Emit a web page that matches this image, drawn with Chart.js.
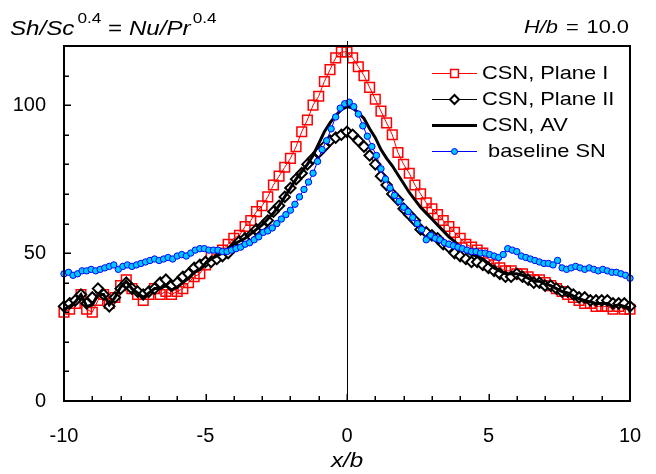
<!DOCTYPE html>
<html>
<head>
<meta charset="utf-8">
<script src="https://cdn.jsdelivr.net/npm/chart.js@4.4.0/dist/chart.umd.min.js"></script>
<style>
  html, body { margin: 0; padding: 0; background: #fff; }
  #wrap { width: 656px; height: 474px; }
</style>
</head>
<body>
<div id="wrap"><canvas id="chart" width="656" height="474"></canvas></div>
<script>
// ===== Data =====
const X_START = -10;
const PLANE_STEP = 0.2;    // x spacing of the CSN samples
const BASE_STEP = 0.16;    // x spacing of the baseline samples

const seriesNames = ["CSN, Plane I", "CSN, Plane II", "CSN, AV", " baseline SN"];
const xTickLabels = [-10, -5, 0, 5, 10];
const yTickLabels = [0, 50, 100];

const planeI = [
  30, 31, 33, 36, 31, 30, 34, 36, 33, 35,
  39, 41, 38, 36, 34, 36, 38, 36, 37, 36,
  37, 38, 40, 42, 43, 46, 49, 50, 51, 53,
  55, 56, 59, 61, 64, 66, 69, 73, 76, 79,
  82, 86, 91, 95, 100, 103, 108, 112, 116, 118,
  118, 116, 113, 110, 106, 102, 98, 94, 90, 84,
  80, 77, 73, 70, 67, 65, 63, 61, 59, 57,
  55, 53, 52, 51, 50, 48, 46, 45, 44, 44,
  43, 43, 42, 41, 41, 40, 39, 38, 37, 36,
  35, 34, 33, 33, 32, 32, 32, 31, 32, 31,
  31
];

const planeII = [
  32, 33, 34, 36, 33, 35, 38, 36, 32, 35,
  38, 40, 38, 37, 36, 37, 38, 40, 41, 39,
  40, 42, 43, 45, 46, 47, 47, 48, 49, 50,
  52, 54, 55, 56, 58, 59, 61, 64, 66, 69,
  72, 75, 77, 80, 82, 84, 86, 88, 89, 90,
  91, 90, 88, 86, 83, 80, 76, 73, 70, 68,
  65, 63, 61, 58, 57, 56, 55, 53, 52, 50,
  49, 48, 47, 47, 46, 45, 44, 43, 42, 42,
  43, 42, 41, 40, 40, 39, 39, 38, 37, 37,
  36, 35, 35, 34, 34, 34, 34, 33, 33, 33,
  32
];

const planeAV = [
  31, 32, 33.5, 36, 32, 32.5, 36, 36, 32.5, 35,
  38.5, 40.5, 38, 36.5, 35, 36.5, 38, 38, 39, 37.5,
  38.5, 40, 41.5, 43.5, 44.5, 46.5, 48, 49, 50, 51.5,
  53, 54, 55, 56.5, 58, 59.5, 61.5, 63.5, 66, 69,
  72, 75, 77.5, 80, 83, 87, 91, 94, 96.5, 98.5,
  99.5, 99, 97.5, 95.5, 92, 89, 85, 82, 79.5, 76.5,
  73.5, 70.5, 68, 65.5, 63.5, 61.5, 59.5, 57.5, 55.5, 54,
  52, 50.5, 49.5, 49, 48, 46.5, 45, 44, 43, 43,
  43, 42.5, 41.5, 40.5, 40.5, 39.5, 39, 38, 37, 36.5,
  35.5, 34.5, 34, 33.5, 33, 33, 33, 32, 32.5, 32,
  31.5
];

const baseline = [
  43, 43.5, 42.5, 43, 44, 44, 44.5, 44, 44.5, 45,
  45.5, 46, 44.5, 45.5, 46, 45.5, 46, 46.5, 47, 47.5,
  48, 47.5, 48, 48.5, 48, 49, 49.5, 49, 50, 51,
  51.5, 51.5, 51, 51, 51, 50.5, 50.5, 51, 51.5, 52,
  53, 53.5, 54.5, 55.5, 57, 57.5, 58.5, 60, 61.5, 63,
  64.5, 66.5, 69, 71.5, 74, 77, 81, 85, 88, 92,
  96, 99, 100.5, 101, 99.5, 97, 93, 89.5, 86, 83,
  78.5, 75, 72, 69.5, 67.5, 65.5, 64, 62, 60, 58,
  54.5, 56, 55, 54.5, 53.5, 53, 52.5, 52, 51.5, 51,
  50.5, 50.5, 50, 50, 49.5, 49, 48.5, 49.5, 51.5, 51,
  50.5, 49, 48.5, 48, 47.5, 47, 46.5, 46.5, 46, 47.5,
  45, 44.5, 45, 45.5, 45, 44.5, 45, 44.5, 44, 44.5,
  44, 43.5, 43.5, 43, 42.5, 41.5
];

// ===== Helpers =====
function toPoints(values, step) {
    return values.map(function(y, i) {
        return { x: +(X_START + i * step).toFixed(2), y: y };
    });
}

const FONT = "'Liberation Sans', Arial, sans-serif";
const SX = 1.15; // reference text is slightly wide

function stretchedText(ctx, text, x, y, font, align) {
    ctx.save();
    ctx.font = font;
    const w = ctx.measureText(text).width * SX;
    let left = x;
    if (align === "center") left = x - w / 2;
    if (align === "right") left = x - w;
    ctx.translate(left, y);
    ctx.scale(SX, 1);
    ctx.textAlign = "left";
    ctx.fillText(text, 0, 0);
    ctx.restore();
    return w;
}

// ===== Frame, ticks, zero line, titles and legend =====
const decorPlugin = {
    id: "decor",
    afterDraw(chart) {
        const ctx = chart.ctx;
        const area = chart.chartArea;
        const xs = chart.scales.x;
        const ys = chart.scales.y;
        const L = Math.round(area.left), R = Math.round(area.right);
        const T = Math.round(area.top), B = Math.round(area.bottom);
        ctx.save();
        ctx.fillStyle = "#000000";

        // zero line
        const x0 = Math.round(xs.getPixelForValue(0));
        ctx.fillRect(x0, T - 5, 1, B - T + 5);

        // inward ticks
        for (let v = -10; v <= 10; v++) {
            const px = Math.round(xs.getPixelForValue(v));
            const len = v % 5 === 0 ? 7 : 5;
            ctx.fillRect(px - 0.5, B - len, 1.5, len);
        }
        for (let v = 0; v <= 120; v += 10) {
            const py = Math.round(ys.getPixelForValue(v));
            const len = v % 50 === 0 ? 7 : 5;
            ctx.fillRect(L, py - 0.5, len, 1.5);
        }

        // frame
        ctx.fillRect(L - 1, T - 1, R - L + 2, 2);   // top
        ctx.fillRect(L - 1, B - 1, R - L + 2, 2);   // bottom
        ctx.fillRect(L - 1, T - 1, 2, B - T + 2);   // left
        ctx.fillRect(R - 1, T - 1, 2, B - T + 2);   // right

        // title left
        ctx.textBaseline = "alphabetic";
        const italic = "italic 21px " + FONT;
        const plain = "21px " + FONT;
        const sup = "15px " + FONT;
        let x = 10;
        const base = 35;
        x += stretchedText(ctx, "Sh/Sc", x, base, italic);
        x += 3;
        x += stretchedText(ctx, "0.4", x, base - 12, sup);
        x += stretchedText(ctx, " = ", x, base, plain);
        x += stretchedText(ctx, "Nu/Pr", x, base, italic);
        x += 2;
        stretchedText(ctx, "0.4", x, base - 12, sup);

        // title right
        const base2 = 33;
        stretchedText(ctx, "H/b", 524, base2, "italic 19px " + FONT);
        stretchedText(ctx, "=", 566, base2, "19px " + FONT);
        stretchedText(ctx, "10.0", 629, base2, "19px " + FONT, "right");

        // x axis title
        stretchedText(ctx, "x/b", (area.left + area.right) / 2, 467, italic, "center");

        // legend
        const rows = [73, 99, 125, 151];
        const lx1 = 432, lx2 = 477;
        chart.data.datasets.forEach(function(ds, i) {
            const y = rows[i];
            ctx.strokeStyle = ds.borderColor;
            ctx.lineWidth = ds.borderWidth;
            ctx.beginPath();
            ctx.moveTo(lx1, y + 0.5);
            ctx.lineTo(lx2, y + 0.5);
            ctx.stroke();
            if (ds.legendRadius) {
                ctx.fillStyle = ds.legendFill;
                ctx.strokeStyle = ds.pointBorderColor;
                ctx.lineWidth = ds.pointBorderWidth;
                Chart.helpers.drawPoint(ctx, {
                    pointStyle: ds.pointStyle,
                    rotation: 0,
                    radius: ds.legendRadius,
                    borderWidth: ds.pointBorderWidth
                }, (lx1 + lx2) / 2, y + 0.5);
            }
            ctx.fillStyle = "#000000";
            ctx.textBaseline = "middle";
            stretchedText(ctx, ds.label, 482, y + 1, "19px " + FONT);
        });
        ctx.restore();
    }
};

// ===== Chart =====
const ctx = document.getElementById("chart").getContext("2d");

new Chart(ctx, {
    type: "scatter",
    data: {
        datasets: [
            {
                label: seriesNames[0],
                data: toPoints(planeI, PLANE_STEP),
                showLine: true,
                borderColor: "#ff0000",
                borderWidth: 1,
                pointStyle: "rect",
                pointRadius: 6.8,
                pointBorderWidth: 1.5,
                pointBorderColor: "#ff0000",
                pointBackgroundColor: "rgba(255,255,255,0)",
                legendRadius: 5.5,
                legendFill: "#ffffff",
                order: 4,
                clip: 8
            },
            {
                label: seriesNames[1],
                data: toPoints(planeII, PLANE_STEP),
                showLine: true,
                borderColor: "#000000",
                borderWidth: 1,
                pointStyle: "rectRot",
                pointRadius: 5.2,
                pointBorderWidth: 2,
                pointBorderColor: "#000000",
                pointBackgroundColor: "#ffffff",
                legendRadius: 4.5,
                legendFill: "#ffffff",
                order: 3,
                clip: 8
            },
            {
                label: seriesNames[2],
                data: toPoints(planeAV, PLANE_STEP),
                showLine: true,
                borderColor: "#000000",
                borderWidth: 3,
                pointRadius: 0,
                order: 2,
                clip: 8
            },
            {
                label: seriesNames[3],
                data: toPoints(baseline, BASE_STEP),
                showLine: true,
                borderColor: "#0000ff",
                borderWidth: 1,
                pointStyle: "circle",
                pointRadius: 3.2,
                pointBorderWidth: 1,
                pointBorderColor: "#0000ff",
                pointBackgroundColor: "#00c8ff",
                legendRadius: 3,
                legendFill: "#00c8ff",
                order: 1,
                clip: 8
            }
        ]
    },
    options: {
        responsive: false,
        devicePixelRatio: 1,
        animation: false,
        events: [],
        layout: { padding: { top: 46, right: 26, left: 0, bottom: 0 } },
        plugins: {
            legend: { display: false },
            tooltip: { enabled: false }
        },
        elements: { line: { tension: 0 } },
        scales: {
            x: {
                type: "linear",
                min: -10,
                max: 10,
                afterFit: function(s) {
                    s.height = 73;
                    s.paddingLeft = 0;
                    s.paddingRight = 0;
                },
                afterBuildTicks: function(s) {
                    s.ticks = xTickLabels.map(function(v) { return { value: v }; });
                },
                grid: { display: false, drawTicks: false },
                border: { display: false },
                ticks: {
                    color: "#000",
                    padding: 23,
                    maxRotation: 0,
                    autoSkip: false,
                    font: { family: FONT, size: 20 }
                }
            },
            y: {
                min: 0,
                max: 120,
                afterFit: function(s) {
                    s.width = 64;
                    s.paddingTop = 0;
                    s.paddingBottom = 0;
                },
                afterBuildTicks: function(s) {
                    s.ticks = yTickLabels.map(function(v) { return { value: v }; });
                },
                grid: { display: false, drawTicks: false },
                border: { display: false },
                ticks: {
                    color: "#000",
                    padding: 18,
                    autoSkip: false,
                    font: { family: FONT, size: 20 }
                }
            }
        }
    },
    plugins: [decorPlugin]
});
</script>
</body>
</html>
